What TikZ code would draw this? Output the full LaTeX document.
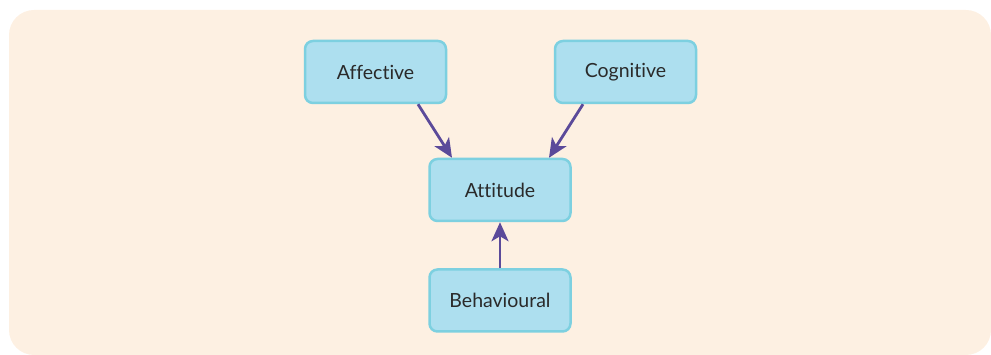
\documentclass[tikz,border=0pt]{standalone}
\usepackage{fontspec}
\setmainfont[Ligatures={NoCommon}]{Lato}
\usetikzlibrary{arrows.meta}
\definecolor{bgc}{HTML}{FDF0E2}
\definecolor{boxfill}{HTML}{ADDFEF}
\definecolor{boxdraw}{HTML}{7DD0E0}
\definecolor{arr}{HTML}{5B4A9A}
\definecolor{txt}{HTML}{2A2A2A}
\tikzset{
  compbox/.style={draw=boxdraw, fill=boxfill, line width=2.5pt, rounded corners=8pt,
    minimum width=141pt, minimum height=62pt, inner sep=0pt,
    font=\fontsize{19.5}{23}\selectfont, text=txt},
  conn/.style={draw=arr, line width=2.8pt, -{Stealth[length=19pt,width=17pt,inset=5pt]}}
}
\begin{document}
\begin{tikzpicture}[x=1pt,y=-1pt]
\useasboundingbox (0,0) rectangle (991,355);
\fill[bgc, rounded corners=25pt] (9,10) rectangle (991,355);
\node[compbox] (aff) at (375.5,72) {Affective};
\node[compbox] (cog) at (625.5,72) {Cognitive};
\node[compbox] (att) at (500,190) {Attitude};
\node[compbox] (beh) at (500,300.5) {Behavioural};
\draw[conn] (aff.south -| 418,0) -- (att.north -| 452,0);
\draw[conn] (cog.south -| 583,0) -- (att.north -| 549,0);
\draw[conn] (beh) -- (att);
\end{tikzpicture}
\end{document}
